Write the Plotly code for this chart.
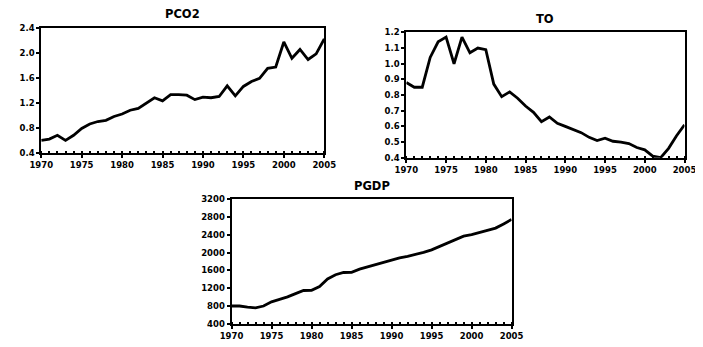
import plotly.graph_objects as go

years = list(range(1970, 2006))

pco2 = [0.60, 0.62, 0.68, 0.60, 0.68, 0.79, 0.86, 0.90, 0.92, 0.98,
        1.02, 1.08, 1.11, 1.20, 1.28, 1.23, 1.33, 1.33, 1.32, 1.25,
        1.29, 1.28, 1.30, 1.47, 1.31, 1.46, 1.54, 1.59, 1.75, 1.77,
        2.17, 1.91, 2.05, 1.89, 1.98, 2.22]

to = [0.88, 0.85, 0.85, 1.04, 1.14, 1.17, 1.00, 1.17, 1.07, 1.10,
      1.09, 0.87, 0.79, 0.82, 0.78, 0.73, 0.69, 0.63, 0.66, 0.62,
      0.60, 0.58, 0.56, 0.53, 0.51, 0.525, 0.505, 0.50, 0.49, 0.465,
      0.45, 0.41, 0.40, 0.46, 0.54, 0.61]

pgdp = [800, 800, 775, 760, 800, 895, 950, 1005, 1080, 1150,
        1155, 1240, 1410, 1505, 1555, 1560, 1630, 1680, 1725, 1775,
        1840, 1885, 1920, 1960, 2010, 2065, 2140, 2210, 2285, 2375,
        2410, 2455, 2505, 2555, 2650, 2750]

x_ticks = [1970, 1975, 1980, 1985, 1990, 1995, 2000, 2005]
pco2_ticks = [0.4, 0.8, 1.2, 1.6, 2.0, 2.4]
to_ticks = [0.4, 0.5, 0.6, 0.7, 0.8, 0.9, 1.0, 1.1, 1.2]
pgdp_ticks = [400, 800, 1200, 1600, 2000, 2400, 2800, 3200]

titles = ["PCO2", "TO", "PGDP"]

W, H = 703, 347
OFF = 8  # page body margin compensation
# plot boxes in screen pixels (left, right, top, bottom)
boxes = [(30, 323, 23, 152), (408, 696, 28, 157), (227, 517, 200, 328)]

fig = go.Figure()
series = [pco2, to, pgdp]
yranges = [[0.4, 2.4], [0.4, 1.2], [400, 3200]]
yticks = [pco2_ticks, to_ticks, pgdp_ticks]
yfmt = [".1f", ".1f", "d"]

tickfont = dict(family="DejaVu Sans, sans-serif", size=8.5, color="black", weight="bold")

for i in range(3):
    xa = "x" if i == 0 else f"x{i+1}"
    ya = "y" if i == 0 else f"y{i+1}"
    fig.add_trace(go.Scatter(x=years, y=series[i], mode="lines",
                             line=dict(color="black", width=2.8),
                             xaxis=xa, yaxis=ya, showlegend=False))
    l, r, t, b = [v - OFF for v in boxes[i]]
    xkey = "xaxis" if i == 0 else f"xaxis{i+1}"
    ykey = "yaxis" if i == 0 else f"yaxis{i+1}"
    fig.update_layout(**{
        xkey: dict(domain=[l / W, r / W], range=[1970, 2005], anchor=ya,
                   tickvals=x_ticks, ticktext=[str(v) for v in x_ticks],
                   showgrid=False, zeroline=False, showline=True, mirror=True,
                   linecolor="black", linewidth=2, ticks="outside", ticklen=3,
                   tickwidth=1.5, tickcolor="black", tickfont=tickfont,
                   minor=dict(dtick=1, ticks="inside", ticklen=2, tickcolor="black", showgrid=False)),
        ykey: dict(domain=[(H - b) / H, (H - t) / H], range=yranges[i], anchor=xa,
                   tickvals=yticks[i], tickformat=yfmt[i],
                   showgrid=False, zeroline=False, showline=True, mirror=True,
                   linecolor="black", linewidth=2, ticks="outside", ticklen=3,
                   tickwidth=1.5, tickcolor="black", tickfont=tickfont),
    })
    fig.add_annotation(text=f"<b>{titles[i]}</b>", x=(l + r) / 2 / W, y=(H - t + 5) / H,
                       xref="paper", yref="paper", xanchor="center", yanchor="bottom",
                       showarrow=False,
                       font=dict(family="DejaVu Sans, sans-serif", size=11.5, color="black"))

fig.update_layout(width=W, height=H, margin=dict(l=0, r=0, t=0, b=0),
                  paper_bgcolor="white", plot_bgcolor="white")

fig.write_html("out.html")
